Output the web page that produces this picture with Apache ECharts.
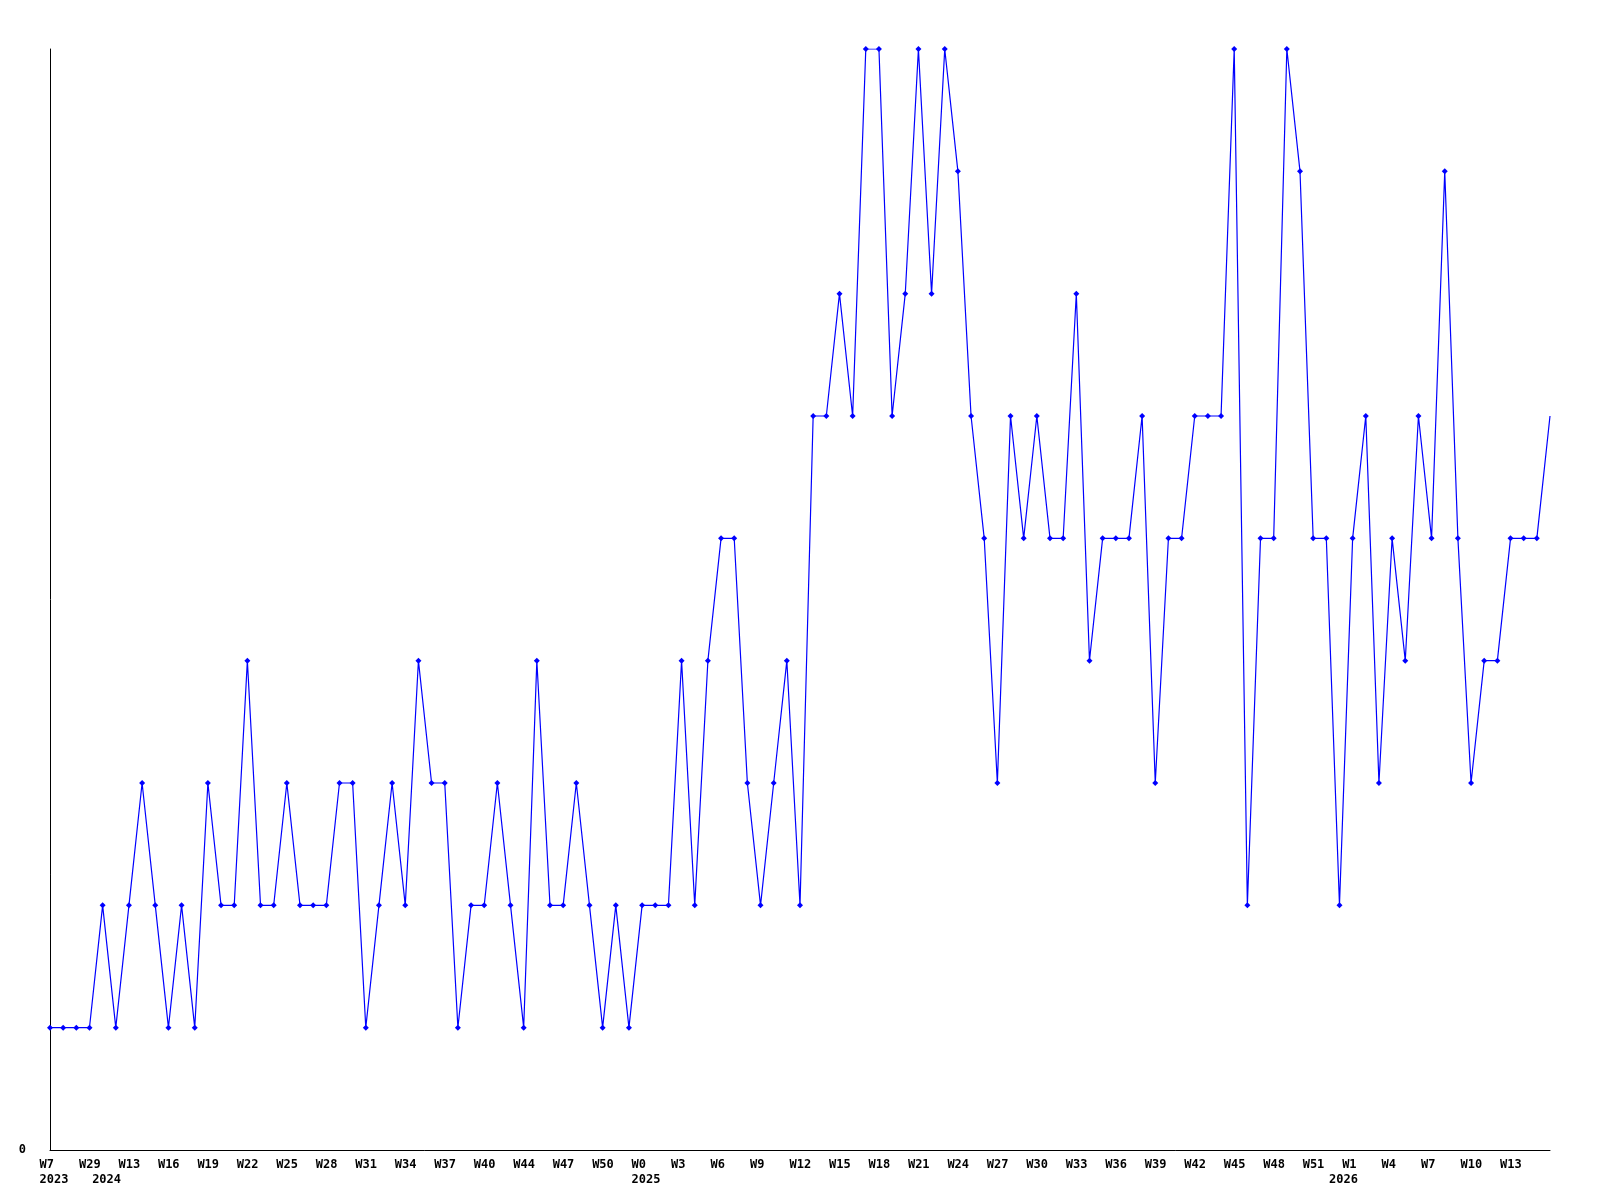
<!DOCTYPE html>
<html>
<head>
<meta charset="utf-8">
<script src="https://cdn.jsdelivr.net/npm/echarts@6/dist/echarts.min.js"></script>
<style>html,body{margin:0;padding:0;background:#fff}#chart{width:1600px;height:1200px}</style>
</head>
<body>
<div id="chart"></div>
<script>
var weeks = [
  "W7","W15","W22","W29",
  "W11","W12","W13","W14","W15","W16","W17","W18","W19","W20","W21","W22","W23","W24","W25","W26",
  "W27","W28","W29","W30","W31","W32","W33","W34","W35","W36","W37","W38","W39","W40","W41","W43",
  "W44","W45","W46","W47","W48","W49","W50","W51","W52",
  "W0","W1","W2","W3","W4","W5","W6","W7","W8","W9","W10","W11","W12","W13","W14","W15","W16","W17",
  "W18","W19","W20","W21","W22","W23","W24","W25","W26","W27","W28","W29","W30","W31","W32","W33",
  "W34","W35","W36","W37","W38","W39","W40","W41","W42","W43","W44","W45","W46","W47","W48","W49",
  "W50","W51","W52",
  "W0","W1","W2","W3","W4","W5","W6","W7","W8","W9","W10","W11","W12","W13","W14","W15","W16"
];
var yearStarts = {0: "2023", 4: "2024", 45: "2025", 98: "2026"};
var values = [
  1,1,1,1,2,1,2,3,2,1,
  2,1,3,2,2,4,2,2,3,2,
  2,2,3,3,1,2,3,2,4,3,
  3,1,2,2,3,2,1,4,2,2,
  3,2,1,2,1,2,2,2,4,2,
  4,5,5,3,2,3,4,2,6,6,
  7,6,9,9,6,7,9,7,9,8,
  6,5,3,6,5,6,5,5,7,4,
  5,5,5,6,3,5,5,6,6,6,
  9,2,5,5,9,8,5,5,2,5,
  6,3,5,4,6,5,8,5,3,4,
  4,5,5,5,6
];
var yTicks = [0];

var chart = echarts.init(document.getElementById('chart'), null, {renderer: 'canvas'});
var seriesData = values.map(function (v, i) {
  return i === values.length - 1 ? {value: v, symbol: 'none'} : v;
});
var font = '"DejaVu Sans Mono", monospace';
function weekShown(index) { return index % 3 === 0 && index < weeks.length - 1; }
chart.setOption({
  animation: false,
  backgroundColor: '#ffffff',
  grid: {left: 50, right: 50, top: 49, bottom: 50, containLabel: false},
  xAxis: {
    type: 'category',
    data: weeks,
    boundaryGap: false,
    axisLine: {show: true, lineStyle: {color: '#000', width: 1}},
    axisTick: {show: false},
    splitLine: {show: false},
    axisLabel: {
      show: true,
      margin: 7,
      interval: function (index) { return weekShown(index) || yearStarts[index] !== undefined; },
      formatter: function (value, index) {
        var top = weekShown(index) ? value : ' ';
        var s = '{a|' + top + '}';
        if (yearStarts[index] !== undefined) s += '\n{a|' + yearStarts[index] + '}';
        return s;
      },
      rich: {
        a: {width: 21, align: 'left', fontFamily: font, fontWeight: 'bold', fontSize: 12, lineHeight: 15, color: '#000'}
      }
    }
  },
  yAxis: {
    type: 'value',
    min: 0,
    max: 9,
    interval: 9,
    axisLine: {show: true, lineStyle: {color: '#000', width: 1}},
    axisTick: {show: false},
    splitLine: {show: false},
    axisLabel: {
      margin: 24,
      fontFamily: font, fontWeight: 'bold', fontSize: 12, color: '#000',
      formatter: function (v) { return yTicks.indexOf(v) >= 0 ? String(v) : ''; }
    }
  },
  series: [{
    type: 'line',
    data: seriesData,
    symbol: 'diamond',
    symbolSize: 6,
    showAllSymbol: true,
    lineStyle: {color: '#0000ff', width: 1.2},
    itemStyle: {color: '#0000ff'},
    emphasis: {disabled: true}
  }]
});
</script>
</body>
</html>
